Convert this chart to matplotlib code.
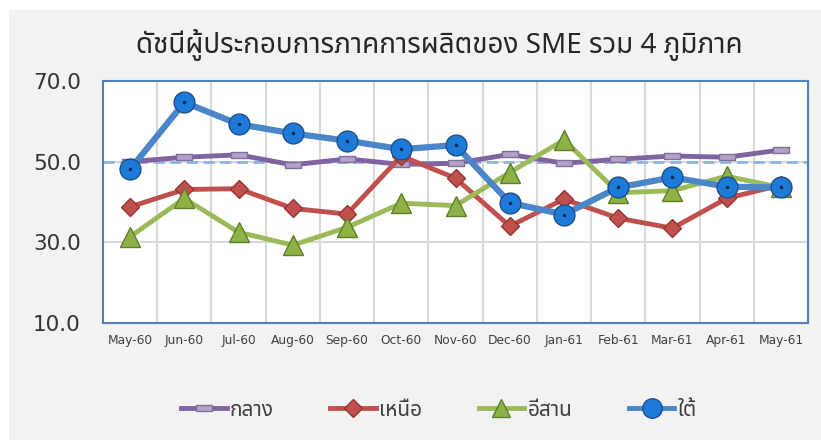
import matplotlib
matplotlib.use("Agg")
import matplotlib.pyplot as plt
from matplotlib import font_manager
from matplotlib.lines import Line2D
from matplotlib.patches import Rectangle
from matplotlib.ft2font import FT2Font

# ---- data ----
months = ["May-60", "Jun-60", "Jul-60", "Aug-60", "Sep-60", "Oct-60", "Nov-60",
          "Dec-60", "Jan-61", "Feb-61", "Mar-61", "Apr-61", "May-61"]
central = [50.0, 51.1, 51.7, 49.2, 50.7, 49.3, 49.6, 51.8, 49.6, 50.6, 51.4, 51.1, 52.9]
north = [38.8, 43.1, 43.3, 38.4, 37.0, 51.4, 45.9, 34.0, 40.7, 36.0, 33.5, 40.9, 44.2]
northeast = [31.4, 40.9, 32.5, 29.3, 33.7, 39.7, 39.1, 47.3, 55.4, 42.3, 42.8, 46.4, 43.6]
south = [48.1, 64.7, 59.3, 57.0, 55.2, 53.1, 54.1, 39.8, 36.9, 43.6, 46.1, 43.8, 43.6]
names = ["กลาง", "เหนือ", "อีสาน", "ใต้"]
title = "ดัชนีผู้ประกอบการภาคการผลิตของ SME รวม 4 ภูมิภาค"
yticks = [10.0, 30.0, 50.0, 70.0]
ref_level = 50.0

# ---- find a Thai-capable font ----
thai_family = None
preferred = []
for f in font_manager.fontManager.ttflist:
    try:
        ft = FT2Font(f.fname)
        cmap = ft.get_charmap()
        if 0x0E14 in cmap and 0x0E01 in cmap:
            preferred.append(f.name)
    except Exception:
        pass
for cand in ["Noto Sans Thai", "Noto Sans Thai UI", "Tahoma", "Leelawadee UI", "Loma", "Garuda"]:
    if cand in preferred:
        thai_family = cand
        break
if thai_family is None and preferred:
    thai_family = preferred[0]
fams = ([thai_family] if thai_family else []) + ["DejaVu Sans"]
plt.rcParams["font.family"] = fams

fig = plt.figure(figsize=(8.21, 4.40), dpi=100, facecolor="white")
fig.patches.append(Rectangle((9 / 821, 0), 1, 1 - 10 / 440, transform=fig.transFigure,
                             facecolor="#f2f2f2", edgecolor="none", zorder=-10))

ax = fig.add_axes([103 / 821, 1 - 323 / 440, (808 - 103) / 821, (323 - 81) / 440])
ax.set_facecolor("white")
x = list(range(len(months)))

ax.set_xlim(-0.5, len(months) - 0.5)
ax.set_ylim(10, 70)
ax.set_yticks(yticks)
ax.set_yticklabels([f"{v:.1f}" for v in yticks], fontsize=15.5, color="#333333", family="DejaVu Sans")
ax.set_xticks(x)
ax.set_xticklabels(months, fontsize=8.8, color="#404040", family="DejaVu Sans")
ax.tick_params(axis="both", which="both", length=0)
ax.tick_params(axis="y", pad=16)
ax.tick_params(axis="x", pad=8)
ax.grid(False)
for xv in [i + 0.5 for i in x[:-1]]:
    ax.axvline(xv, color="#d9d9d9", lw=1.5, zorder=0)
for yv in [30, 50]:
    ax.axhline(yv, color="#d9d9d9", lw=1.5, zorder=0)
ax.axhline(ref_level, color="#8db4e2", lw=2, ls=(0, (4, 2)), zorder=1)
for s in ax.spines.values():
    s.set_color("#4f81bd")
    s.set_linewidth(1.5)

flat_rect = [(-1, -0.38), (1, -0.38), (1, 0.38), (-1, 0.38), (-1, -0.38)]

ax.plot(x, central, color="#8064a2", lw=3.5, marker=flat_rect, ms=11, mfc="#b3a2c7",
        mec="#7f6f9a", mew=1, zorder=3, label=names[0])
ax.plot(x, north, color="#c0504d", lw=3.5, marker="D", ms=9, mfc="#c0504d",
        mec="#943634", mew=1, zorder=4, label=names[1])
ax.plot(x, northeast, color="#9bbb59", lw=3.5, marker="^", ms=14, mfc="#8db347",
        mec="#5f7f2a", mew=1, zorder=5, label=names[2])
ax.plot(x, south, color="#4a86c8", lw=4.5, marker="o", ms=15, mfc="#1e7ad8",
        mec="#1f4f8a", mew=1, zorder=6, label=names[3])
ax.plot(x, south, ls="none", marker="o", ms=2.5, mfc="#0a2a50", mec="none", zorder=7)

fig.text(439 / 821, 1 - 45 / 440, title, ha="center", va="center", fontsize=20, color="#262626")

handles = [
    Line2D([], [], color="#8064a2", lw=3.5, marker=flat_rect, ms=11, mfc="#b3a2c7", mec="#7f6f9a"),
    Line2D([], [], color="#c0504d", lw=3.5, marker="D", ms=9, mfc="#c0504d", mec="#943634"),
    Line2D([], [], color="#9bbb59", lw=3.5, marker="^", ms=13, mfc="#8db347", mec="#5f7f2a"),
    Line2D([], [], color="#4a86c8", lw=3.5, marker="o", ms=14, mfc="#1e7ad8", mec="#1f4f8a"),
]
fig.legend(handles, names, loc="center", bbox_to_anchor=(439 / 821, 1 - 410 / 440), ncol=4,
           frameon=False, fontsize=15, handlelength=2.2, columnspacing=2.7, handletextpad=0.15,
           labelcolor="#404040")

fig.savefig("out.png", dpi=100, facecolor=fig.get_facecolor())
